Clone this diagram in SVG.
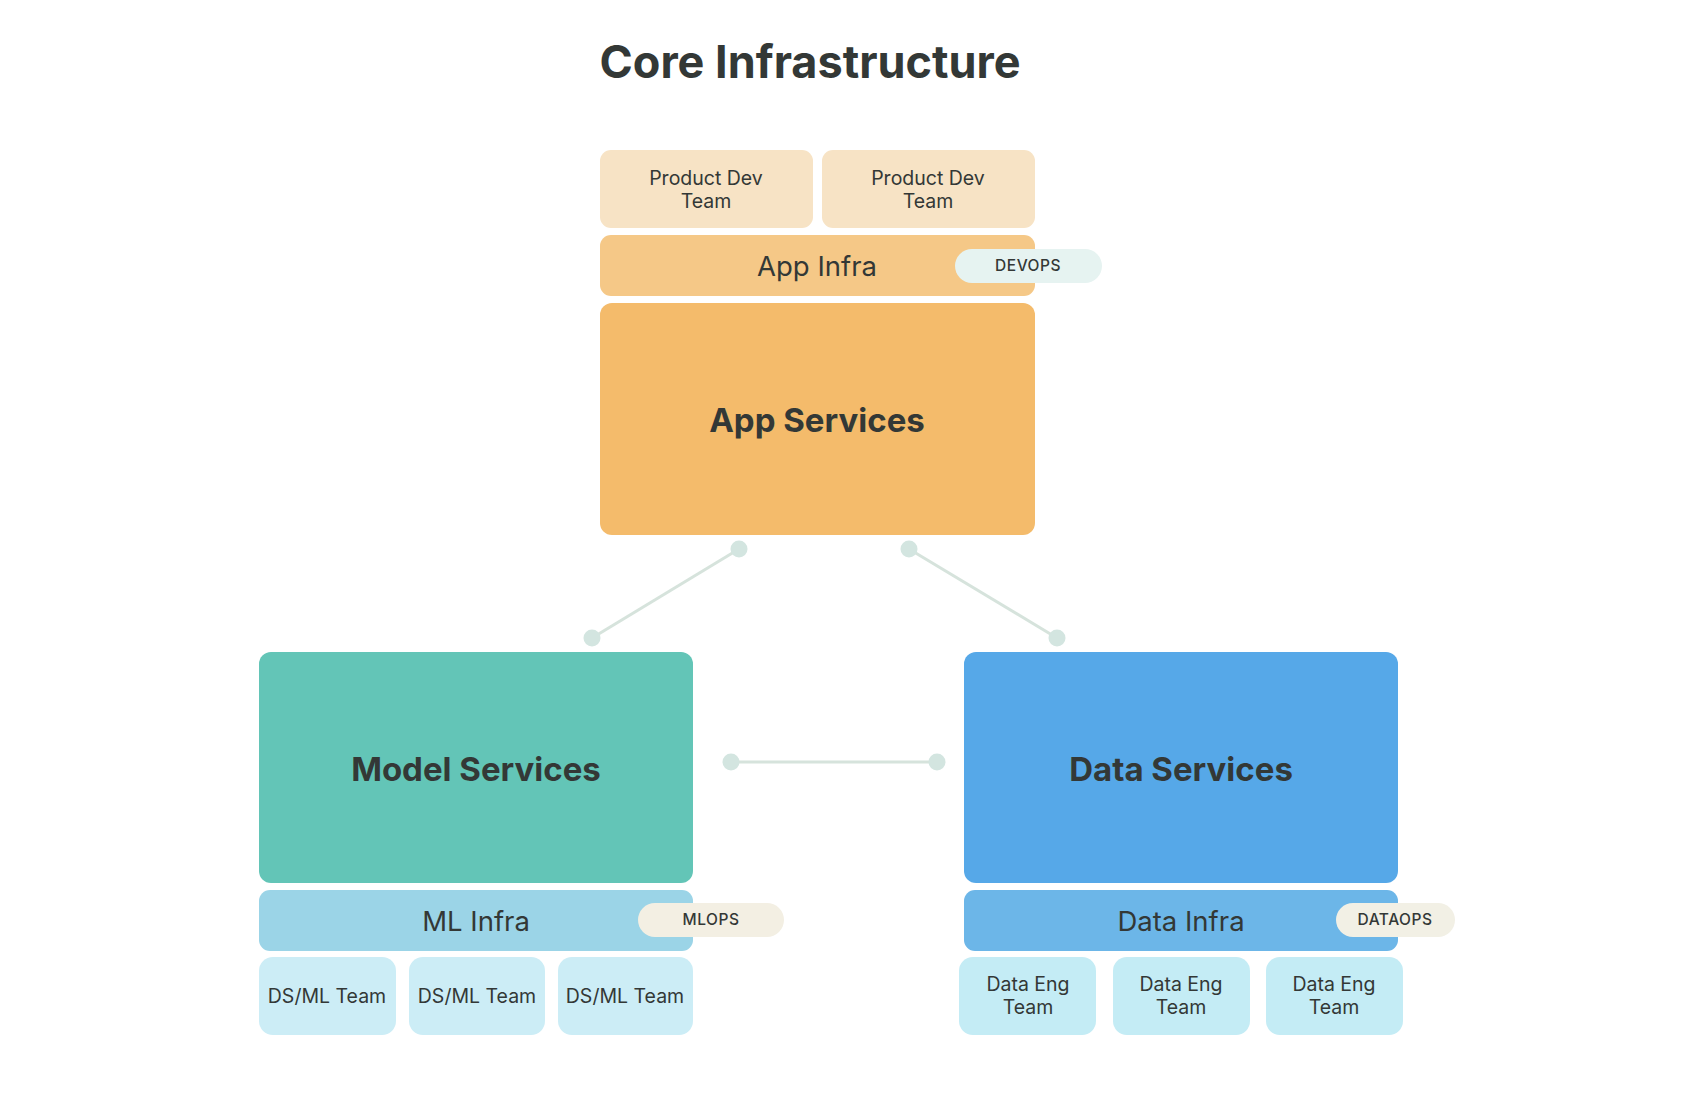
<svg xmlns="http://www.w3.org/2000/svg" width="1688" height="1098" viewBox="0 0 1688 1098">
<style>
text{font-family:Inter,"Liberation Sans",sans-serif;fill:#333836;text-anchor:middle}
.title{font-size:45px;font-weight:700}
.big{font-size:33px;font-weight:700}
.infra{font-size:27.5px;font-weight:400}
.team{font-size:19.5px;font-weight:400}
.pilltxt{font-size:15.5px;font-weight:500;letter-spacing:0.5px}
.conn{stroke:#d6e3dc;stroke-width:3;fill:none}
.dot{fill:#d3e5e0}
</style>
<rect width="1688" height="1098" fill="#ffffff"/>
<text class="title" x="810" y="78">Core Infrastructure</text>
<g id="connectors">
<line class="conn" x1="739" y1="549" x2="592" y2="638"/>
<circle class="dot" cx="739" cy="549" r="8.5"/>
<circle class="dot" cx="592" cy="638" r="8.5"/>
<line class="conn" x1="909" y1="549" x2="1057" y2="638"/>
<circle class="dot" cx="909" cy="549" r="8.5"/>
<circle class="dot" cx="1057" cy="638" r="8.5"/>
<line class="conn" x1="731" y1="762" x2="937" y2="762"/>
<circle class="dot" cx="731" cy="762" r="8.5"/>
<circle class="dot" cx="937" cy="762" r="8.5"/>
</g>
<g id="product-dev-1"><rect x="600" y="150" width="213" height="78" rx="11" fill="#f7e3c5"/><text class="team" x="706" y="185">Product Dev</text><text class="team" x="706" y="208">Team</text></g>
<g id="product-dev-2"><rect x="822" y="150" width="213" height="78" rx="11" fill="#f7e3c5"/><text class="team" x="928" y="185">Product Dev</text><text class="team" x="928" y="208">Team</text></g>
<g id="app-infra"><rect x="600" y="235" width="435" height="61" rx="11" fill="#f5c887"/><text class="infra" x="817" y="276">App Infra</text></g>
<g id="devops"><rect x="955" y="249" width="147" height="34" rx="17" fill="#e6f3f1"/><text class="pilltxt" x="1028" y="271">DEVOPS</text></g>
<g id="app-services"><rect x="600" y="303" width="435" height="232" rx="12" fill="#f4bb6b"/><text class="big" x="817" y="432">App Services</text></g>
<g id="model-services"><rect x="259" y="652" width="434" height="231" rx="12" fill="#63c5b7"/><text class="big" x="476" y="781">Model Services</text></g>
<g id="data-services"><rect x="964" y="652" width="434" height="231" rx="12" fill="#56a8e8"/><text class="big" x="1181" y="781">Data Services</text></g>
<g id="ml-infra"><rect x="259" y="890" width="434" height="61" rx="11" fill="#9bd4e7"/><text class="infra" x="476" y="931">ML Infra</text></g>
<g id="mlops"><rect x="638" y="903" width="146" height="34" rx="17" fill="#f3efe3"/><text class="pilltxt" x="711" y="925">MLOPS</text></g>
<g id="data-infra"><rect x="964" y="890" width="434" height="61" rx="11" fill="#6cb6e8"/><text class="infra" x="1181" y="931">Data Infra</text></g>
<g id="dataops"><rect x="1336" y="903" width="119" height="34" rx="17" fill="#f2f0e5"/><text class="pilltxt" x="1395" y="925">DATAOPS</text></g>
<g id="dsml-1"><rect x="259" y="957" width="137" height="78" rx="14" fill="#ccedf6"/><text class="team" x="327" y="1003">DS/ML Team</text></g>
<g id="dsml-2"><rect x="409" y="957" width="136" height="78" rx="14" fill="#ccedf6"/><text class="team" x="477" y="1003">DS/ML Team</text></g>
<g id="dsml-3"><rect x="558" y="957" width="135" height="78" rx="14" fill="#ccedf6"/><text class="team" x="625" y="1003">DS/ML Team</text></g>
<g id="dataeng-1"><rect x="959" y="957" width="137" height="78" rx="14" fill="#c4ecf5"/><text class="team" x="1028" y="991">Data Eng</text><text class="team" x="1028" y="1014">Team</text></g>
<g id="dataeng-2"><rect x="1113" y="957" width="137" height="78" rx="14" fill="#c4ecf5"/><text class="team" x="1181" y="991">Data Eng</text><text class="team" x="1181" y="1014">Team</text></g>
<g id="dataeng-3"><rect x="1266" y="957" width="137" height="78" rx="14" fill="#c4ecf5"/><text class="team" x="1334" y="991">Data Eng</text><text class="team" x="1334" y="1014">Team</text></g>
</svg>
